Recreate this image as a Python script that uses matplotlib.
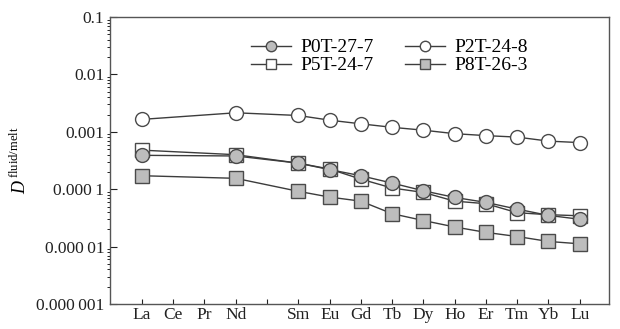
import numpy as np
import matplotlib.pyplot as plt
from matplotlib.ticker import LogLocator, NullFormatter

plt.rcParams['font.family'] = ['Liberation Serif', 'DejaVu Serif']
plt.rcParams['mathtext.fontset'] = 'custom'
plt.rcParams['mathtext.rm'] = 'Liberation Serif'
plt.rcParams['mathtext.it'] = 'Liberation Serif:italic'

# REE order (Pm has a tick but no label)
ree = ['La', 'Ce', 'Pr', 'Nd', '', 'Sm', 'Eu', 'Gd', 'Tb', 'Dy', 'Ho', 'Er', 'Tm', 'Yb', 'Lu']
used = ['La', 'Nd', 'Sm', 'Eu', 'Gd', 'Tb', 'Dy', 'Ho', 'Er', 'Tm', 'Yb', 'Lu']

p0t_27_7 = [3.9e-4, 3.8e-4, 2.85e-4, 2.2e-4, 1.72e-4, 1.28e-4, 9.4e-5, 7.2e-5, 5.9e-5, 4.5e-5, 3.5e-5, 3.0e-5]
p2t_24_8 = [1.65e-3, 2.15e-3, 1.93e-3, 1.6e-3, 1.38e-3, 1.2e-3, 1.07e-3, 9.3e-4, 8.6e-4, 8.1e-4, 6.9e-4, 6.5e-4]
p5t_24_7 = [4.8e-4, 4.0e-4, 2.85e-4, 2.25e-4, 1.5e-4, 1.05e-4, 8.8e-5, 6.2e-5, 5.6e-5, 3.9e-5, 3.6e-5, 3.45e-5]
p8t_26_3 = [1.72e-4, 1.55e-4, 9.2e-5, 7.3e-5, 6.2e-5, 3.75e-5, 2.85e-5, 2.2e-5, 1.77e-5, 1.5e-5, 1.23e-5, 1.12e-5]

ytick_vals = [1e-6, 1e-5, 1e-4, 1e-3, 1e-2, 1e-1]
ytick_labels = ['0.000\u2009001', '0.000\u200901', '0.000\u20091', '0.001', '0.01', '0.1']

x = [ree.index(e) for e in used]

fig = plt.figure(figsize=(6.2, 3.29), dpi=100)
ax = fig.add_axes([0.177, 0.076, 0.805, 0.872])

line_c = '#3c3c3c'
grey = '#bdbdbd'
edge = '#4a4a4a'
h0, = ax.plot(x, p0t_27_7, '-o', color=line_c, mfc=grey, mec=edge, ms=10, lw=1.0, label='P0T-27-7', zorder=4)
h2, = ax.plot(x, p2t_24_8, '-o', color=line_c, mfc='white', mec=edge, ms=10, lw=1.0, label='P2T-24-8', zorder=3)
h5, = ax.plot(x, p5t_24_7, '-s', color=line_c, mfc='white', mec=edge, ms=9.5, lw=1.0, label='P5T-24-7', zorder=3)
h8, = ax.plot(x, p8t_26_3, '-s', color=line_c, mfc=grey, mec=edge, ms=9.5, lw=1.0, label='P8T-26-3', zorder=3)

ax.set_yscale('log')
ax.set_ylim(1e-6, 0.1)
ax.set_xlim(-1.03, 14.93)
ax.set_yticks(ytick_vals)
ax.set_yticklabels(ytick_labels)
ax.yaxis.set_minor_locator(LogLocator(base=10, subs=np.arange(2, 10)))
ax.yaxis.set_minor_formatter(NullFormatter())
ax.set_xticks(range(len(ree)))
ax.set_xticklabels(ree)

ax.tick_params(axis='both', direction='in', labelsize=12.5, colors='#222222')
ax.tick_params(axis='y', which='major', length=5, width=0.8, pad=4)
ax.tick_params(axis='y', which='minor', length=2.5, width=0.6)
ax.tick_params(axis='x', length=3.5, width=0.8, pad=2)
for s in ax.spines.values():
    s.set_color('#555555')
    s.set_linewidth(1.0)

ax.set_ylabel(r'$\mathit{D}^{\,\mathrm{fluid/melt}}$', fontsize=13, labelpad=4)

ax.legend([h0, h5, h2, h8], ['P0T-27-7', 'P5T-24-7', 'P2T-24-8', 'P8T-26-3'],
          loc='upper center', bbox_to_anchor=(0.561, 0.965), ncol=2, frameon=False,
          fontsize=14, handlelength=2.05, columnspacing=1.6, labelspacing=0.02,
          handletextpad=0.5, borderaxespad=0.2, markerscale=0.75)

fig.savefig('out.png', dpi=100, facecolor='white')
